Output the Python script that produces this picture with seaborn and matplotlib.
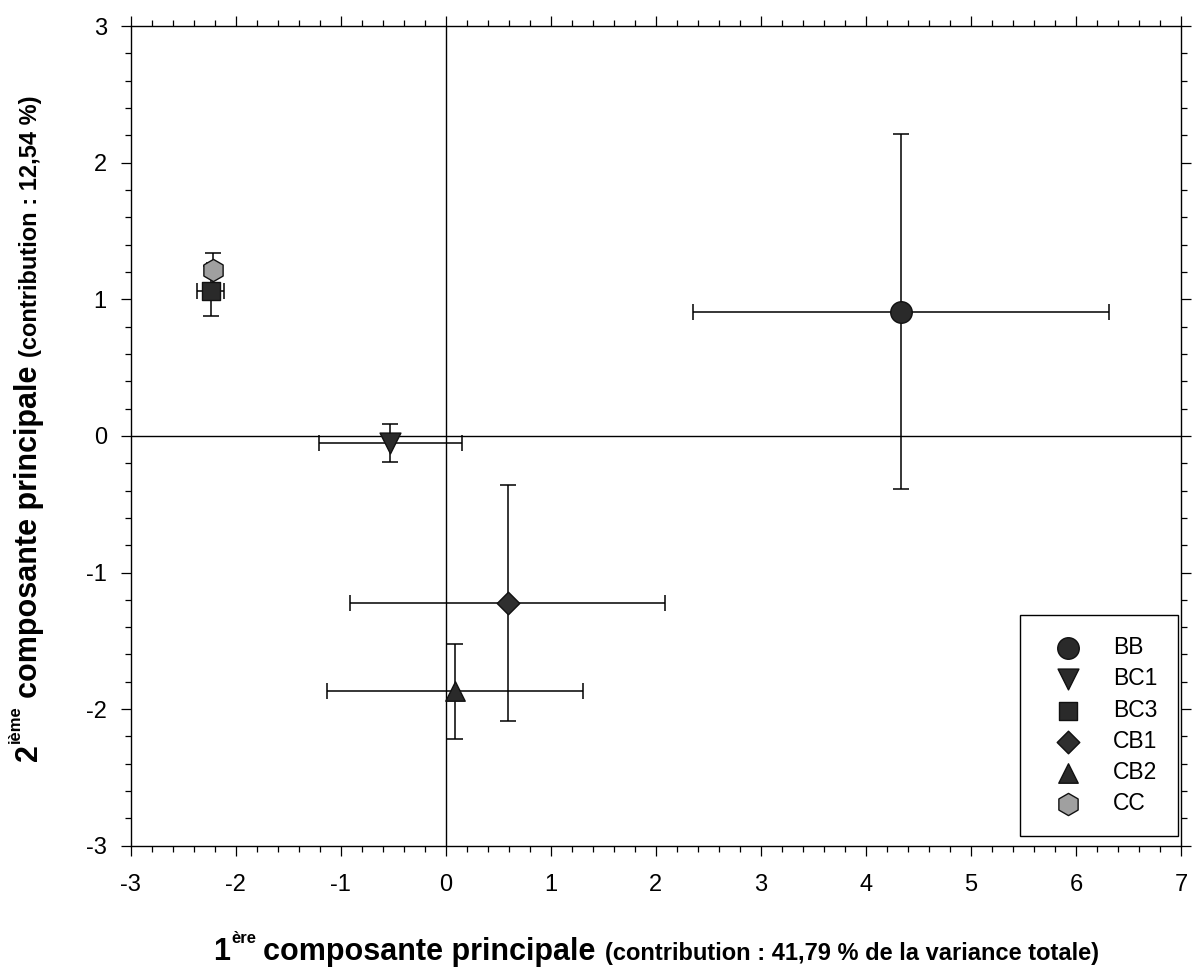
import numpy as np
import pandas as pd
import matplotlib
matplotlib.use("Agg")
import matplotlib.pyplot as plt
import matplotlib.transforms as mtransforms
from matplotlib.ticker import MultipleLocator
import seaborn as sns

# Group scores on the first two principal components (mean +/- error)
groups = ["BB", "BC1", "BC3", "CB1", "CB2", "CC"]
pc1 = [4.33, -0.53, -2.24, 0.59, 0.09, -2.22]
pc2 = [0.91, -0.05, 1.06, -1.225, -1.87, 1.215]
pc1_err = [1.98, 0.68, 0.13, 1.50, 1.22, 0.05]
pc2_err = [1.30, 0.14, 0.18, 0.865, 0.35, 0.125]

markers = ["o", "v", "s", "D", "^", "h"]
marker_sizes = [15.5, 15.0, 13.0, 11.5, 14.0, 16.0]
face_colors = ["#2a2a2a", "#2a2a2a", "#2a2a2a", "#2f2f2f", "#2a2a2a", "#a0a0a0"]

df = pd.DataFrame({"group": groups, "pc1": pc1, "pc2": pc2,
                   "pc1_err": pc1_err, "pc2_err": pc2_err})

sns.set_theme(style="ticks")
plt.rcParams["font.family"] = ["Liberation Sans", "DejaVu Sans"]
plt.rcParams["axes.unicode_minus"] = False
for key in ["text.color", "axes.labelcolor", "xtick.color", "ytick.color",
            "xtick.labelcolor", "ytick.labelcolor", "axes.edgecolor"]:
    plt.rcParams[key] = "black"

W, H = 1194, 968
fig = plt.figure(figsize=(W / 100, H / 100), dpi=100)
ax = fig.add_axes([0.1095, 0.1263, 0.8796, 0.8468])

# origin lines
ax.axhline(0, color="black", lw=1.0, zorder=1)
ax.axvline(0, color="black", lw=1.0, zorder=1)

# error bars
ax.errorbar(df["pc1"], df["pc2"], xerr=df["pc1_err"], yerr=df["pc2_err"],
            fmt="none", ecolor="black", elinewidth=1.1, capsize=6,
            capthick=1.1, zorder=2)

# group means
for g, m, ms, fc in zip(groups, markers, marker_sizes, face_colors):
    sub = df[df["group"] == g]
    sns.scatterplot(data=sub, x="pc1", y="pc2", marker=m, s=ms ** 2,
                    color=fc, edgecolor="#111111", linewidth=1.0,
                    label=g, ax=ax, zorder=3)

ax.set_xlim(-3, 7)
ax.set_ylim(-3, 3)
ax.xaxis.set_major_locator(MultipleLocator(1))
ax.yaxis.set_major_locator(MultipleLocator(1))
ax.xaxis.set_minor_locator(MultipleLocator(0.2))
ax.yaxis.set_minor_locator(MultipleLocator(0.2))
ax.tick_params(which="both", direction="out", top=True, right=True,
               labeltop=False, labelright=False, color="black",
               labelcolor="black", width=0.9)
ax.tick_params(which="major", length=7.2)
ax.tick_params(which="minor", length=4.3)
ax.tick_params(axis="x", which="major", labelsize=17, pad=13)
ax.tick_params(axis="y", which="major", labelsize=17, pad=10)
for sp in ax.spines.values():
    sp.set_visible(True)
    sp.set_color("black")
    sp.set_linewidth(1.0)
ax.set_xlabel("")
ax.set_ylabel("")

leg = ax.legend(loc="lower right", bbox_to_anchor=(0.997, 0.012),
                borderaxespad=0, frameon=True, fancybox=False,
                framealpha=1, edgecolor="black", fontsize=16.5,
                handlelength=2.4, handletextpad=0.75, borderpad=0.9,
                labelspacing=0.36, scatterpoints=1)
leg.get_frame().set_linewidth(1.0)
for t in leg.get_texts():
    t.set_color("black")

# axis titles built from pieces of different sizes
fig.canvas.draw()
renderer = fig.canvas.get_renderer()
pix = mtransforms.IdentityTransform()


def compose_label(pieces, center, base, vertical=False):
    texts, lengths = [], []
    for s, fs, rise, gap in pieces:
        t = fig.text(0, 0, s, fontsize=fs, fontweight="bold",
                     rotation=90 if vertical else 0, rotation_mode="anchor",
                     ha="left", va="baseline", transform=pix, color="black")
        bb = t.get_window_extent(renderer)
        texts.append(t)
        lengths.append(bb.height if vertical else bb.width)
    total = sum(lengths) + sum(p[3] for p in pieces[:-1])
    pos = center - total / 2
    for t, L, (s, fs, rise, gap) in zip(texts, lengths, pieces):
        if vertical:
            t.set_position((base - rise, pos))
        else:
            t.set_position((pos, base + rise))
        pos += L + gap


compose_label([("1", 22, 0, 1), ("ère", 12, 17, 7),
               ("composante principale", 22, 0, 9),
               ("(contribution : 41,79 % de la variance totale)", 17, 0, 0)],
              center=656, base=8)
compose_label([("2", 22, 0, 1), ("ième", 12, 17, 7),
               ("composante principale", 22, 0, 9),
               ("(contribution : 12,54 %)", 17, 0, 0)],
              center=540, base=37, vertical=True)

fig.savefig("out.png", dpi=100)
